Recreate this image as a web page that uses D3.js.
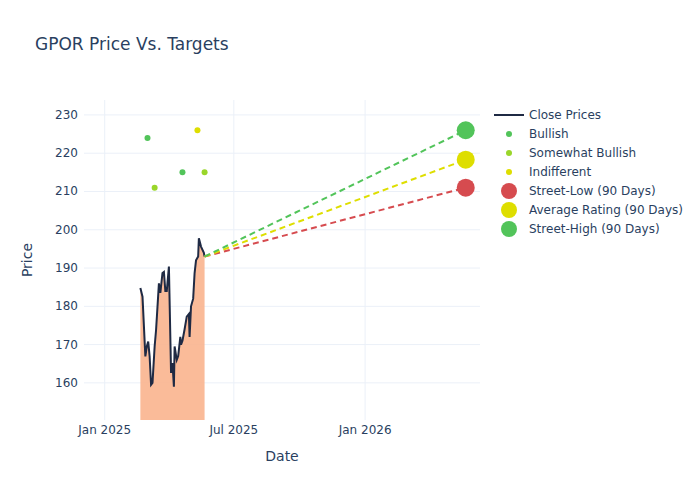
<!DOCTYPE html><html><head><script src="https://cdn.jsdelivr.net/npm/d3@7"></script>
<style>body{margin:0;background:#fff}text{font-family:"DejaVu Sans",sans-serif}</style></head><body><svg id="c" width="700" height="500"></svg>
<script>
const priceDates=["2025-02-20","2025-02-23","2025-02-27","2025-03-01","2025-03-03","2025-03-05","2025-03-07","2025-03-09","2025-03-12","2025-03-14","2025-03-18","2025-03-20","2025-03-23","2025-03-25","2025-03-27","2025-03-29","2025-04-01","2025-04-04","2025-04-06","2025-04-08","2025-04-09","2025-04-12","2025-04-14","2025-04-17","2025-04-18","2025-04-20","2025-04-23","2025-04-26","2025-04-29","2025-04-30","2025-05-02","2025-05-05","2025-05-07","2025-05-09","2025-05-12","2025-05-13","2025-05-16","2025-05-20","2025-05-21"];
const priceValues=[184.8,182.5,166.9,169.5,170.8,166.9,159.5,160,169.5,173.8,186,183.5,188.7,189,184,184,190.4,162.6,165.2,159,169.5,166,167,172,170,171,174,177.3,178,172,180,182,188.7,192,193,197.8,195.6,194,193];
const bullishDates=["2025-03-02","2025-04-20"], bullishValues=[224,215];
const swBullishDates=["2025-03-12","2025-05-21"], swBullishValues=[211,215];
const indiffDates=["2025-05-11"], indiffValues=[226];
const targetDate="2026-05-22";
const targetNames=["Street-Low (90 Days)","Average Rating (90 Days)","Street-High (90 Days)"];
const targetValues=[211,218.3,226];
const targetColors=["#d64b4f","#dede00","#52c45a"];
const yTicks=[160,170,180,190,200,210,220,230];
const xTicks=["2025-01-01","2025-07-01","2026-01-01"], xTickLabels=["Jan 2025","Jul 2025","Jan 2026"];

const P=d3.timeParse("%Y-%m-%d");
const svg=d3.select("#c");
const L=84,R=480,T=100,B=420;
const x=d3.scaleTime().domain([P("2024-12-03"),P("2026-06-11")]).range([L,R]);
const y=d3.scaleLinear().domain([150.3,233.9]).range([B,T]);
const g=svg.append("g");
yTicks.forEach(t=>g.append("line").attr("x1",L).attr("x2",R).attr("y1",y(t)).attr("y2",y(t)).attr("stroke","#ebf0f8"));
xTicks.forEach(t=>g.append("line").attr("y1",T).attr("y2",B).attr("x1",x(P(t))).attr("x2",x(P(t))).attr("stroke","#ebf0f8"));
yTicks.forEach(t=>g.append("text").attr("x",L-6).attr("y",y(t)+4).attr("text-anchor","end").attr("font-size",12).attr("fill","#2a3f5f").text(t));
xTicks.forEach((t,i)=>g.append("text").attr("x",x(P(t))).attr("y",B+14).attr("text-anchor","middle").attr("font-size",12).attr("fill","#2a3f5f").text(xTickLabels[i]));
const pd=priceDates.map((d,i)=>({d:P(d),v:priceValues[i]}));
g.append("path").datum(pd).attr("d",d3.area().x(d=>x(d.d)).y0(B).y1(d=>y(d.v))).attr("fill","#f9b48e").attr("opacity",0.9);
g.append("path").datum(pd).attr("d",d3.line().x(d=>x(d.d)).y(d=>y(d.v))).attr("fill","none").attr("stroke","#1f2a44").attr("stroke-width",2);
const last=pd[pd.length-1];
targetValues.forEach((v,i)=>g.append("line").attr("x1",x(last.d)).attr("y1",y(last.v)).attr("x2",x(P(targetDate))).attr("y2",y(v)).attr("stroke",targetColors[i]).attr("stroke-width",2).attr("stroke-dasharray","6,4"));
const dots=(ds,vs,c)=>ds.forEach((d,i)=>g.append("circle").attr("cx",x(P(d))).attr("cy",y(vs[i])).attr("r",3).attr("fill",c));
dots(bullishDates,bullishValues,"#52c45a");dots(swBullishDates,swBullishValues,"#9ad62a");dots(indiffDates,indiffValues,"#dede00");
targetValues.forEach((v,i)=>g.append("circle").attr("cx",x(P(targetDate))).attr("cy",y(v)).attr("r",9).attr("fill",targetColors[i]));
svg.append("text").attr("x",35).attr("y",50).attr("font-size",17).attr("fill","#2a3f5f").text("GPOR Price Vs. Targets");
svg.append("text").attr("x",(L+R)/2).attr("y",461).attr("text-anchor","middle").attr("font-size",14).attr("fill","#2a3f5f").text("Date");
svg.append("text").attr("transform","translate(32,260) rotate(-90)").attr("text-anchor","middle").attr("font-size",14).attr("fill","#2a3f5f").text("Price");
const leg=[["Close Prices","line","#1f2a44"],["Bullish",3,"#52c45a"],["Somewhat Bullish",3,"#9ad62a"],["Indifferent",3,"#dede00"]].concat(targetNames.map((n,i)=>[n,8,targetColors[i]]));
leg.forEach((l,i)=>{const yy=115+i*19;
 if(l[1]==="line")svg.append("line").attr("x1",494).attr("x2",524).attr("y1",yy).attr("y2",yy).attr("stroke",l[2]).attr("stroke-width",2);
 else svg.append("circle").attr("cx",509).attr("cy",yy).attr("r",l[1]).attr("fill",l[2]);
 svg.append("text").attr("x",529).attr("y",yy+4).attr("font-size",12).attr("fill","#2a3f5f").text(l[0]);});
</script></body></html>
